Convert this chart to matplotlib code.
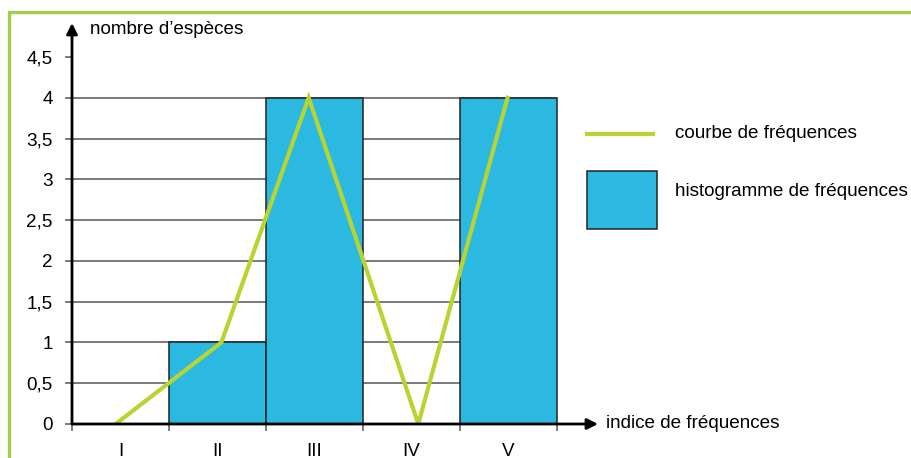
import matplotlib
matplotlib.use('Agg')
import matplotlib.pyplot as plt
from matplotlib.patches import Rectangle
from matplotlib.lines import Line2D

plt.rcParams['font.family'] = ['Liberation Sans', 'DejaVu Sans']

# données
categories = ['I', 'II', 'III', 'IV', 'V']
histogramme = [0, 1, 4, 0, 4]
# courbe tracée à la main : positions (en largeur de classe)
courbe_x = [0.45, 1.54, 2.44, 3.57, 4.49]
courbe_y = [0, 1, 4, 0, 4]
y_ticks = [0, 0.5, 1, 1.5, 2, 2.5, 3, 3.5, 4, 4.5]
y_labels = ['0', '0,5', '1', '1,5', '2', '2,5', '3', '3,5', '4', '4,5']

bleu = '#2bb9e1'
vert = '#b7d433'
cadre = '#a3cc4a'
gris = '#707070'
fs = 13.6

W, H = 912, 458
fig = plt.figure(figsize=(W / 100, H / 100), dpi=100)


def px(x, y):
    # pixels (depuis le coin haut gauche) -> fraction de figure
    return x / W, 1 - y / H


# cadre vert autour de la figure
fig.add_artist(Rectangle((9.5 / W, -0.1), 1.2, 1 - 12 / H + 0.1,
                         transform=fig.transFigure, fill=False,
                         edgecolor=cadre, lw=2.4))

x0, x1, y0, y1 = 72, 598, 424, 23
ax = fig.add_axes([x0 / W, (H - y0) / H, (x1 - x0) / W, (y0 - y1) / H])
ax.set_xlim(0, (x1 - x0) / 97.0)
ax.set_ylim(0, (y0 - y1) / 81.56)
for s in ax.spines.values():
    s.set_visible(False)

n = len(categories)
centres = [i + 0.5 for i in range(n)]

# lignes horizontales
ax.hlines(y_ticks[1:-1], 0, n, color=gris, lw=1.3, zorder=1)

ax.bar(centres, histogramme, width=1, color=bleu, edgecolor='#222222',
       lw=1.1, zorder=2)
ax.plot(courbe_x, courbe_y, color=vert, lw=3, zorder=3, solid_joinstyle='miter')

# graduations
ax.set_yticks(y_ticks)
ax.set_yticklabels(y_labels, fontsize=fs)
ax.tick_params(axis='y', length=5, width=1.3, color=gris, pad=9)
ax.set_xticks(range(n + 1))
ax.set_xticklabels([])
ax.set_xticks(centres, minor=True)
ax.set_xticklabels(categories, minor=True, fontsize=fs)
ax.tick_params(axis='x', which='major', length=5, width=1.3, color=gris)
ax.tick_params(axis='x', which='minor', length=0, pad=14)

# axes avec flèches
arrow = dict(arrowstyle='-|>', color='black', lw=2, mutation_scale=16,
             shrinkA=0, shrinkB=0)
ax.annotate('', xy=(1, 0), xytext=(0, 0), xycoords='axes fraction',
            arrowprops=arrow, annotation_clip=False, zorder=5)
ax.annotate('', xy=(0, 1), xytext=(0, 0), xycoords='axes fraction',
            arrowprops=arrow, annotation_clip=False, zorder=5)

ax.annotate('indice de fréquences', xy=(1, 0), xycoords='axes fraction',
            xytext=(6, 0), textcoords='offset points', va='center',
            ha='left', fontsize=fs, annotation_clip=False)
fig.text(*px(90, 29), 'nombre d’espèces', fontsize=fs, va='center', ha='left')

# légende dessinée à la main
lx0, ly0 = px(587, 134)
lx1, _ = px(653, 134)
fig.add_artist(Line2D([lx0, lx1], [ly0, ly0], color=vert, lw=3,
                      transform=fig.transFigure))
rx, ry = px(587, 229)
fig.add_artist(Rectangle((rx, ry), 70 / W, 58 / H, transform=fig.transFigure,
                         facecolor=bleu, edgecolor='#222222', lw=1.1))
fig.text(*px(675, 133), 'courbe de fréquences', fontsize=fs,
         va='center', ha='left')
fig.text(*px(675, 192), 'histogramme de fréquences', fontsize=fs,
         va='center', ha='left')

fig.savefig('out.png', dpi=100)
